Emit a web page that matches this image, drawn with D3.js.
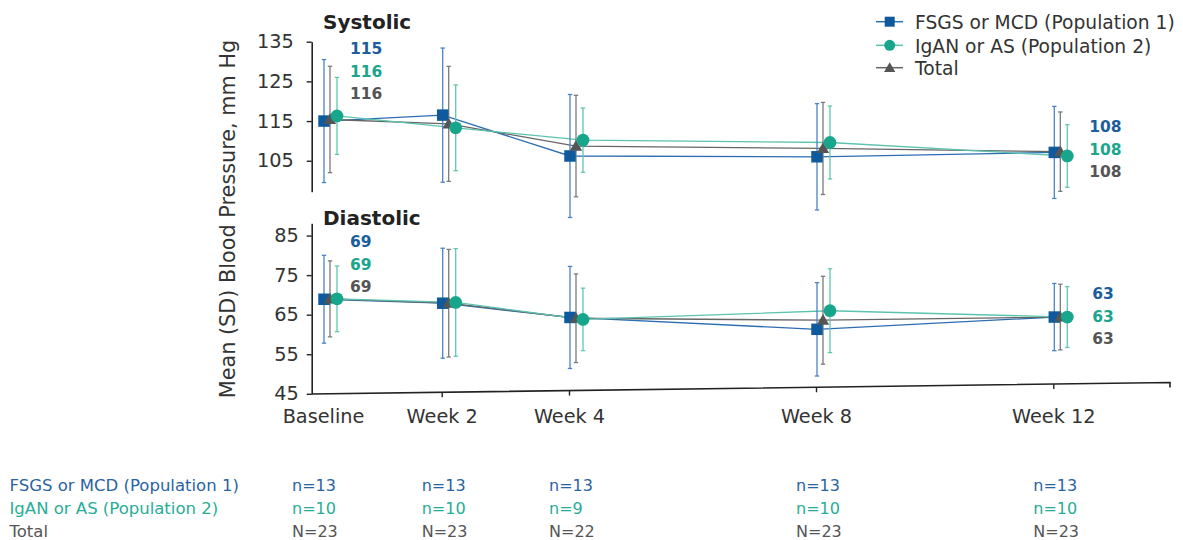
<!DOCTYPE html>
<html>
<head>
<meta charset="utf-8">
<script src="https://cdn.jsdelivr.net/npm/d3@7"></script>
<style>
  html, body { margin: 0; padding: 0; background: #fff; }
  svg { display: block; font-family: "DejaVu Sans", Verdana, sans-serif; }
</style>
</head>
<body>
<svg id="chart" width="1183" height="540"></svg>
<script>
// ---------------- data ----------------
const weeks = [0, 2, 4, 8, 12];
const weekLabels = ["Baseline", "Week 2", "Week 4", "Week 8", "Week 12"];

const seriesNames = ["FSGS or MCD (Population 1)", "IgAN or AS (Population 2)", "Total"];

// Systolic mean and SD
const sysMeanPop1 = [115.0, 116.5, 106.2, 106.0, 107.1];
const sysSdPop1   = [15.5, 16.9, 15.5, 13.4, 11.6];
const sysMeanPop2 = [116.3, 113.3, 110.2, 109.6, 106.2];
const sysSdPop2   = [9.7, 10.8, 8.1, 9.2, 7.9];
const sysMeanTotal = [115.4, 114.3, 108.7, 108.1, 107.3];
const sysSdTotal   = [13.4, 14.5, 12.8, 11.6, 10.0];

// Diastolic mean and SD
const diaMeanPop1 = [68.9, 67.9, 64.3, 61.3, 64.4];
const diaSdPop1   = [11.1, 13.9, 12.9, 11.8, 8.5];
const diaMeanPop2 = [69.0, 68.1, 63.8, 66.0, 64.4];
const diaSdPop2   = [8.3, 13.6, 7.9, 10.6, 7.7];
const diaMeanTotal = [69.0, 67.9, 64.1, 63.6, 64.4];
const diaSdTotal   = [9.6, 13.6, 11.2, 11.1, 8.3];

// Labelled values (baseline and week 12)
const sysBaselineLabels = ["115", "116", "116"];
const sysWeek12Labels   = ["108", "108", "108"];
const diaBaselineLabels = ["69", "69", "69"];
const diaWeek12Labels   = ["63", "63", "63"];

// Axis ticks
const sysTicks = [105, 115, 125, 135];
const diaTicks = [45, 55, 65, 75, 85];

// Patient counts table
const nPop1  = ["n=13", "n=13", "n=13", "n=13", "n=13"];
const nPop2  = ["n=10", "n=10", "n=9", "n=10", "n=10"];
const nTotal = ["N=23", "N=23", "N=22", "N=23", "N=23"];

// ---------------- styles ----------------
const styles = [
  { marker: "#0e5a9c", line: "#2d6db2", err: "#4a84c4", text: "#1b5e9b", table: "#2a63a1", symbol: d3.symbolSquare, size: 132, legSize: 100, off: 1 },
  { marker: "#17a68c", line: "#5cc3ae", err: "#62c6b2", text: "#1aa58d", table: "#27ad96", symbol: d3.symbolCircle, size: 128, legSize: 95, off: 14 },
  { marker: "#555555", line: "#666666", err: "#7a7a7a", text: "#555555", table: "#555555", symbol: d3.symbolTriangle, size: 66, legSize: 55, off: 7 }
];

const svg = d3.select("#chart");
const FONT = "'DejaVu Sans', Verdana, sans-serif";

// ---------------- scales ----------------
const axisLeftX = 311.7;
const axisRightX = 1170;
const x = d3.scaleLinear().domain(weeks).range([323, 441.7, 569, 816, 1053.3]);
const ySys = d3.scaleLinear().domain([97.2, 135]).range([191.7, 41.7]);
const yDia = d3.scaleLinear().domain([45, 88.1]).range([393.8, 223.3]);

function build(means, sds) {
  return means.map((m, k) => m.map((v, i) => ({ w: weeks[i], v: v, sd: sds[k][i] })));
}
const sysData = build([sysMeanPop1, sysMeanPop2, sysMeanTotal], [sysSdPop1, sysSdPop2, sysSdTotal]);
const diaData = build([diaMeanPop1, diaMeanPop2, diaMeanTotal], [diaSdPop1, diaSdPop2, diaSdTotal]);

// ---------------- panels ----------------
function drawPanel(data, y, ticks, labelEnd, title, titleY, leftLabels, rightLabels) {
  const g = svg.append("g");
  const ax = g.append("g")
    .attr("transform", `translate(${axisLeftX},0)`)
    .call(d3.axisLeft(y).tickValues(ticks).tickSize(5).tickSizeOuter(0).tickPadding(labelEnd));
  ax.select(".domain").attr("stroke", "#222").attr("stroke-width", 1.6);
  ax.selectAll(".tick line").attr("stroke", "#222").attr("stroke-width", 1.4);
  ax.selectAll(".tick text").attr("font-size", 19.3).attr("fill", "#333").attr("font-family", FONT);

  g.append("text").attr("x", 323).attr("y", titleY).attr("font-size", 20).attr("font-weight", "bold")
    .attr("fill", "#222").attr("font-family", FONT).text(title);

  [0, 2, 1].forEach(k => {
    const st = styles[k];
    g.append("path").datum(data[k])
      .attr("fill", "none").attr("stroke", st.line).attr("stroke-width", 1.3)
      .attr("d", d3.line().x(d => x(d.w) + st.off).y(d => y(d.v)));
  });
  [0, 2, 1].forEach(k => {
    const st = styles[k];
    const eb = g.append("g");
    data[k].forEach(d => {
      const cx = x(d.w) + st.off;
      const y1 = y(d.v + d.sd), y2 = y(d.v - d.sd);
      eb.append("line").attr("x1", cx).attr("x2", cx).attr("y1", y1).attr("y2", y2)
        .attr("stroke", st.err).attr("stroke-width", 1.3);
      [y1, y2].forEach(yy => eb.append("line").attr("x1", cx - 2.2).attr("x2", cx + 2.2)
        .attr("y1", yy).attr("y2", yy).attr("stroke", st.err).attr("stroke-width", 1.3));
    });
  });
  [0, 2, 1].forEach(k => {
    const st = styles[k];
    g.selectAll(null).data(data[k]).join("path")
      .attr("transform", d => `translate(${x(d.w) + st.off},${y(d.v) + (k === 2 ? 1 : 0)})`)
      .attr("d", d3.symbol().type(st.symbol).size(st.size))
      .attr("fill", st.marker);
  });
  const fs = 15.5;
  leftLabels.rows.forEach((t, k) => {
    g.append("text").attr("x", x(weeks[0]) + 27).attr("y", leftLabels.y0 + k * leftLabels.dy)
      .attr("font-size", fs).attr("font-weight", "bold").attr("fill", styles[k].text)
      .attr("font-family", FONT).text(t);
  });
  rightLabels.rows.forEach((t, k) => {
    g.append("text").attr("x", x(weeks[weeks.length - 1]) + rightLabels.dx).attr("y", rightLabels.y0 + k * rightLabels.dy)
      .attr("font-size", fs).attr("font-weight", "bold").attr("fill", styles[k].text)
      .attr("font-family", FONT).text(t);
  });
  return g;
}

drawPanel(sysData, ySys, sysTicks, 13, "Systolic", 28.5,
  { rows: sysBaselineLabels, y0: 54, dy: 22.7 },
  { rows: sysWeek12Labels, y0: 132.3, dy: 22.5, dx: 36 });
drawPanel(diaData, yDia, diaTicks, 8, "Diastolic", 224.5,
  { rows: diaBaselineLabels, y0: 247.3, dy: 22.5 },
  { rows: diaWeek12Labels, y0: 299, dy: 22.5, dx: 39 });

// ---------------- x axis (slightly tilted line) ----------------
const axisY0 = 394, axisY1 = 382.5;
const slope = (axisY1 - axisY0) / (axisRightX - axisLeftX);
const xa = svg.append("g").attr("transform", `translate(0,${axisY0})`)
  .call(d3.axisBottom(x).tickValues(weeks).tickFormat((d, i) => weekLabels[i]).tickSize(5).tickSizeOuter(0));
xa.select(".domain").remove();
xa.selectAll(".tick line")
  .attr("stroke", "#222").attr("stroke-width", 1.4)
  .attr("transform", d => `translate(0,${slope * (x(d) - axisLeftX)})`)
  .attr("display", d => d === 0 ? "none" : null);
xa.selectAll(".tick text")
  .attr("font-size", 19.3).attr("fill", "#333").attr("font-family", FONT)
  .attr("y", 15.5).attr("dy", "0.71em");
svg.append("path")
  .attr("d", `M${axisLeftX},${axisY0}L${axisRightX},${axisY1}l0,5`)
  .attr("fill", "none").attr("stroke", "#222").attr("stroke-width", 1.6);

// ---------------- y axis title ----------------
svg.append("text")
  .attr("transform", "translate(235,219) rotate(-90)")
  .attr("text-anchor", "middle").attr("font-size", 20.8).attr("fill", "#333")
  .attr("font-family", FONT).text("Mean (SD) Blood Pressure, mm Hg");

// ---------------- legend ----------------
const legend = svg.append("g");
const legRowsMarker = [21.7, 45.3, 67.7];
seriesNames.forEach((name, k) => {
  const st = styles[k];
  const yy = legRowsMarker[k];
  legend.append("line").attr("x1", 876).attr("x2", 903).attr("y1", yy).attr("y2", yy)
    .attr("stroke", st.line).attr("stroke-width", 1.5);
  legend.append("path").attr("transform", `translate(889.7,${yy + (k === 2 ? 1 : 0)})`)
    .attr("d", d3.symbol().type(st.symbol).size(st.legSize)).attr("fill", st.marker);
  legend.append("text").attr("x", 915).attr("y", yy + 7.5)
    .attr("font-size", 18.7).attr("fill", "#333").attr("font-family", FONT).text(name);
});

// ---------------- table ----------------
const tableRows = [nPop1, nPop2, nTotal];
const tableY = [491, 514, 537];
seriesNames.forEach((name, k) => {
  svg.append("text").attr("x", 9.5).attr("y", tableY[k]).attr("font-size", 16.5)
    .attr("fill", styles[k].table).attr("font-family", FONT).text(name);
  svg.selectAll(null).data(tableRows[k]).join("text")
    .attr("x", (d, i) => x(weeks[i]) + (i === 0 ? -31 : -20))
    .attr("y", tableY[k]).attr("font-size", 16)
    .attr("fill", styles[k].table).attr("font-family", FONT).text(d => d);
});
</script>
</body>
</html>
